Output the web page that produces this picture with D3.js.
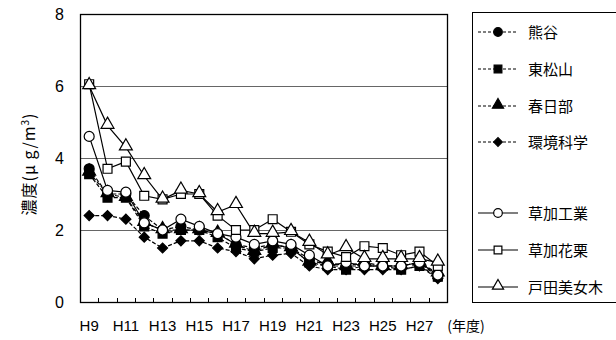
<!DOCTYPE html>
<html>
  <head>
    <meta charset="utf-8">
    <title>濃度の推移</title>
    <script type="text/javascript" src="https://d3js.org/d3.v7.min.js"></script>
    <style>
    body {
      margin: 0;
      background: #fff;
    }
    text {
      font-family: "Liberation Sans", Arial, "Noto Sans CJK JP", sans-serif;
      fill: #000;
    }
    .jp {
      font-family: "Noto Sans CJK JP", sans-serif;
      fill: #000;
    }
    </style>
  </head>
  <body>
    <div id="chart"></div>
    <script type="text/javascript">

      // data
      var years = ['H9','H10','H11','H12','H13','H14','H15','H16','H17','H18',
                   'H19','H20','H21','H22','H23','H24','H25','H26','H27','H28'];
      var yTicks = [0, 2, 4, 6, 8];

      var kumagaya    = [3.7, 3.0, 3.0, 2.4, 2.0, 2.1, 2.0, 1.9, 1.6, 1.5, 1.6, 1.5, 1.2, 1.0, 1.0, 1.0, 1.0, 1.0, 1.1, 0.7];
      var higashimatsuyama = [3.55, 2.9, 2.9, 2.1, 1.9, 2.0, 2.0, 1.8, 1.5, 1.4, 1.5, 1.5, 1.1, 1.0, 0.9, 1.0, 1.0, 0.9, 1.0, 0.7];
      var kasukabe    = [3.6, 3.0, 2.9, 2.2, 2.0, 2.0, 2.0, 1.9, 1.6, 1.4, 1.6, 1.5, 1.1, 1.1, 1.0, 1.1, 1.0, 1.0, 1.1, 0.8];
      var kankyo      = [2.4, 2.4, 2.3, 1.8, 1.5, 1.7, 1.7, 1.5, 1.4, 1.2, 1.3, 1.35, 1.0, 0.9, 0.9, 0.9, 0.9, 0.9, 1.0, 0.65];
      var sokaKogyo   = [4.6, 3.1, 3.05, 2.2, 2.0, 2.3, 2.1, 1.9, 1.8, 1.6, 1.7, 1.6, 1.3, 1.0, 1.1, 1.0, 1.0, 1.0, 1.1, 0.75];
      var sokaKakuri  = [6.05, 3.7, 3.9, 2.95, 2.85, 3.0, 3.0, 2.4, 2.0, 2.0, 2.3, 1.95, 1.6, 1.4, 1.25, 1.55, 1.5, 1.3, 1.4, 1.0];
      var todaBijogi  = [6.0, 4.9, 4.3, 3.5, 2.85, 3.1, 3.0, 2.5, 2.7, 1.9, 1.9, 1.95, 1.65, 1.3, 1.5, 1.2, 1.2, 1.2, 1.2, 1.1];

      var series = [
        {name: '熊谷',       values: kumagaya,         shape: 'circle',   filled: true,  dashed: true},
        {name: '東松山',     values: higashimatsuyama, shape: 'square',   filled: true,  dashed: true},
        {name: '春日部',     values: kasukabe,         shape: 'triangle', filled: true,  dashed: true},
        {name: '環境科学',   values: kankyo,           shape: 'diamond',  filled: true,  dashed: true},
        {name: '草加工業',   values: sokaKogyo,        shape: 'circle',   filled: false, dashed: false},
        {name: '草加花栗',   values: sokaKakuri,       shape: 'square',   filled: false, dashed: false},
        {name: '戸田美女木', values: todaBijogi,       shape: 'triangle', filled: false, dashed: false}
      ];

      var W = 616, H = 340;
      var margin = {top: 14, left: 80, right: 169, bottom: 38};
      var width = W - margin.left - margin.right,
          height = H - margin.top - margin.bottom;

      var svg = d3.select('#chart').append('svg')
        .attr('width', W)
        .attr('height', H);

      var g = svg.append('g')
        .attr('transform', 'translate(' + margin.left + ',' + margin.top + ')');

      var x = d3.scaleBand().domain(years).range([0, width]).padding(0);
      var y = d3.scaleLinear().domain([0, 8]).range([height, 0]);

      // gridlines
      g.selectAll('.grid')
        .data([2, 4, 6])
        .enter().append('line')
        .attr('x1', 0).attr('x2', width)
        .attr('y1', function(d) { return Math.round(y(d)) + 0.5; })
        .attr('y2', function(d) { return Math.round(y(d)) + 0.5; })
        .attr('stroke', '#666')
        .attr('stroke-width', 1);

      // frame
      g.append('rect')
        .attr('x', 0.5).attr('y', 0.5)
        .attr('width', width).attr('height', height)
        .attr('fill', 'none')
        .attr('stroke', '#000')
        .attr('stroke-width', 1.3);

      // y axis labels
      var yAxis = d3.axisLeft(y).tickValues(yTicks).tickSize(0).tickPadding(16);
      g.append('g').call(yAxis)
        .call(function(s) { s.select('.domain').remove(); })
        .selectAll('text')
        .attr('fill', '#000')
        .style('font-size', '16px')
        .style('font-family', '"Liberation Sans", Arial, sans-serif');

      // x ticks at band boundaries, pointing inward
      var bounds = d3.range(years.length + 1).map(function(i) { return i * x.step(); });
      g.selectAll('.xtick')
        .data(bounds)
        .enter().append('line')
        .attr('x1', function(d) { return Math.round(d) + 0.5; })
        .attr('x2', function(d) { return Math.round(d) + 0.5; })
        .attr('y1', height)
        .attr('y2', height - 4)
        .attr('stroke', '#000');

      g.selectAll('.xlabel')
        .data(years.filter(function(d, i) { return i % 2 === 0; }))
        .enter().append('text')
        .attr('x', function(d) { return x(d) + x.bandwidth() / 2; })
        .attr('y', height + 29)
        .attr('text-anchor', 'middle')
        .style('font-size', '15px')
        .text(function(d) { return d; });

      svg.append('text')
        .attr('class', 'jp')
        .attr('x', 466)
        .attr('y', 331)
        .attr('text-anchor', 'middle')
        .style('font-size', '14px')
        .text('(年度)');

      // y title
      var yt = svg.append('text')
        .attr('class', 'jp')
        .attr('transform', 'translate(35,' + (margin.top + height / 2 + 6) + ') rotate(-90)')
        .attr('text-anchor', 'middle')
        .style('font-size', '16px')
        .style('letter-spacing', '1px');
      yt.append('tspan').text('濃度(μ g/m');
      yt.append('tspan').attr('dy', -6).style('font-size', '10px').text('3');
      yt.append('tspan').attr('dy', 6).text(')');

      // markers
      var symbolType = {
        circle: d3.symbolCircle,
        square: d3.symbolSquare,
        triangle: d3.symbolTriangle,
        diamond: d3.symbolSquare
      };
      var symbolSize = {circle: 78, square: 80, triangle: 72, diamond: 50};

      function drawMarker(sel, s, scale) {
        var k = scale || 1;
        sel.attr('d', d3.symbol().type(symbolType[s.shape]).size(symbolSize[s.shape] * k))
          .attr('fill', s.filled ? '#000' : '#fff')
          .attr('stroke', '#000')
          .attr('stroke-width', 1.2);
      }

      function markerTransform(s, px, py) {
        var t = 'translate(' + px + ',' + (s.shape === 'triangle' ? py - 1 : py) + ')';
        if (s.shape === 'diamond') t += ' rotate(45)';
        return t;
      }

      var line = d3.line()
        .x(function(d, i) { return x(years[i]) + x.bandwidth() / 2; })
        .y(function(d) { return y(d); });

      var order = [3, 2, 1, 0, 4, 5, 6];
      order.forEach(function(k) {
        var s = series[k];
        g.append('path')
          .datum(s.values)
          .attr('fill', 'none')
          .attr('stroke', '#000')
          .attr('stroke-width', 1.2)
          .attr('stroke-dasharray', s.dashed ? '4,2' : null)
          .attr('d', line);
      });
      order.forEach(function(k) {
        var s = series[k];
        g.selectAll('.m' + k)
          .data(s.values)
          .enter().append('path')
          .attr('transform', function(d, i) {
            return markerTransform(s, x(years[i]) + x.bandwidth() / 2, y(d));
          })
          .call(drawMarker, s);
      });

      // legend
      var legend = svg.append('g');
      legend.append('rect')
        .attr('x', 472.5).attr('y', 12.5)
        .attr('width', 160).attr('height', 290)
        .attr('fill', '#fff')
        .attr('stroke', '#000')
        .attr('stroke-width', 1);

      var legendY = [32, 69, 106, 142, 213, 250, 287];
      series.forEach(function(s, i) {
        var item = legend.append('g')
          .attr('transform', 'translate(0,' + legendY[i] + ')');
        item.append('line')
          .attr('x1', 478).attr('x2', 518)
          .attr('y1', 0).attr('y2', 0)
          .attr('stroke', '#000')
          .attr('stroke-width', 1.2)
          .attr('stroke-dasharray', s.dashed ? '3,2' : null);
        item.append('path')
          .attr('transform', markerTransform(s, 498, 0))
          .call(drawMarker, s, 0.75);
        item.append('text')
          .attr('class', 'jp')
          .attr('x', 528)
          .attr('y', 5.5)
          .style('font-size', '15px')
          .text(s.name);
      });
    </script>
  </body>
</html>
